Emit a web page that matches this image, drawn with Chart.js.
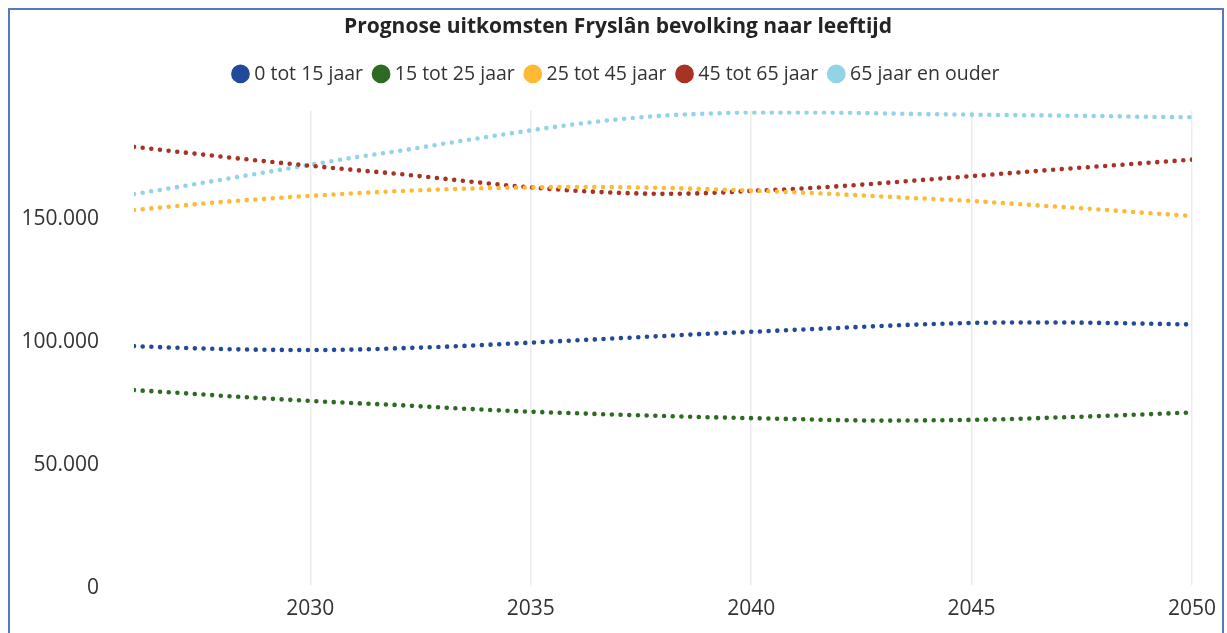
<!DOCTYPE html>
<html>
<head>
<meta charset="utf-8">
<script src="https://cdn.jsdelivr.net/npm/chart.js@4"></script>
<style>
  html, body { margin: 0; padding: 0; background: #fff; overflow: hidden; }
  #bevolking { position: absolute; left: 0; top: 0; }
  #frame { position: absolute; left: 8px; top: 8px; width: 1212px; height: 700px; border: 2px solid #5677c4; pointer-events: none; }
</style>
</head>
<body>
<canvas id="bevolking" width="1227" height="633"></canvas>
<div id="frame"></div>
<script>
// years on the x axis
const years = [2026, 2027, 2028, 2029, 2030, 2031, 2032, 2033, 2034, 2035, 2036, 2037, 2038,
               2039, 2040, 2041, 2042, 2043, 2044, 2045, 2046, 2047, 2048, 2049, 2050];

// age groups
const age0to15 = [97300, 96600, 96100, 95800, 95700, 95900, 96400, 97000, 97800, 98700, 99600, 100500, 101400,
                  102300, 103100, 103900, 104700, 105500, 106200, 106700, 106900, 106900, 106700, 106400, 106100];
const age15to25 = [79400, 78300, 77100, 76000, 75000, 74100, 73300, 72300, 71400, 70600, 70000, 69400, 68900,
                   68400, 68000, 67600, 67200, 67000, 67100, 67300, 67700, 68300, 68900, 69600, 70300];
const age25to45 = [152600, 154300, 155900, 157200, 158400, 159400, 160300, 161000, 161500, 161800, 162000, 161900, 161600,
                   161100, 160500, 159800, 159000, 158100, 157200, 156300, 155100, 153900, 152700, 151400, 150200];
const age45to65 = [178300, 176300, 174300, 172400, 170600, 168900, 167300, 165400, 163500, 161800, 160500, 159600, 159200,
                   159500, 160400, 161200, 162300, 163600, 165000, 166400, 167800, 169200, 170500, 171800, 173100];
const age65plus = [159100, 162000, 165000, 168000, 171000, 174000, 176600, 179500, 182300, 185000, 187500, 189500, 191000,
                   191800, 192300, 192300, 192200, 191900, 191600, 191400, 191200, 191000, 190800, 190500, 190300];

const seriesNames = ["0 tot 15 jaar", "15 tot 25 jaar", "25 tot 45 jaar", "45 tot 65 jaar", "65 jaar en ouder"];
const seriesColors = ["#234a98", "#2e6b22", "#ffb933", "#a83224", "#93d3e6"];
const seriesValues = [age0to15, age15to25, age25to45, age45to65, age65plus];

const xTicks = [2030, 2035, 2040, 2045, 2050];
const yTicks = [0, 50000, 100000, 150000];

function toPoints(values) {
  return values.map((v, i) => ({x: years[i], y: v}));
}

// dutch thousands separator
function fmt(v) {
  return String(v).replace(/\B(?=(\d{3})+(?!\d))/g, '.');
}

const datasets = seriesNames.map((name, i) => ({
  label: name,
  data: toPoints(seriesValues[i]),
  borderColor: seriesColors[i],
  backgroundColor: seriesColors[i],
  borderWidth: 4.6,
  borderDash: [0, 8.7],
  borderCapStyle: 'round',
  pointRadius: 0,
  pointHoverRadius: 0,
  cubicInterpolationMode: 'monotone',
  fill: false
}));

//give the legend some room below it
const legendMargin = {
  id: 'legendMargin',
  beforeInit(chart) {
    const fit = chart.legend.fit;
    chart.legend.fit = function () {
      fit.bind(chart.legend)();
      this.height += 17;
    };
  }
};

const config = {
  type: 'line',
  data: {datasets: datasets},
  options: {
    responsive: false,
    animation: false,
    devicePixelRatio: 1,
    layout: {padding: {left: 10, right: 1, top: 0, bottom: 0}},
    plugins: {
      title: {
        display: true,
        text: 'Prognose uitkomsten Fryslân bevolking naar leeftijd',
        color: '#252423',
        font: {family: 'Open Sans', size: 21, weight: 'bold'},
        padding: {top: 14, bottom: 11}
      },
      legend: {
        display: true,
        labels: {
          usePointStyle: true,
          pointStyle: 'circle',
          boxWidth: 8,
          boxHeight: 10,
          padding: 14,
          color: '#333333',
          font: {family: 'Open Sans', size: 19.5}
        }
      },
      tooltip: {enabled: false}
    },
    scales: {
      x: {
        type: 'linear',
        min: 2026,
        max: 2050,
        afterBuildTicks: scale => { scale.ticks = xTicks.map(v => ({value: v})); },
        afterFit: scale => { scale.height = 45; },
        ticks: {
          padding: 11,
          color: '#333333',
          font: {family: 'Open Sans', size: 21},
          callback: v => String(v)
        },
        grid: {display: true, color: '#ececec', lineWidth: 1.5, drawTicks: false},
        border: {display: false}
      },
      y: {
        min: 0,
        max: 193000,
        afterBuildTicks: scale => { scale.ticks = yTicks.map(v => ({value: v})); },
        afterFit: scale => { scale.width = 124; },
        ticks: {
          padding: 35,
          labelOffset: 3,
          color: '#333333',
          font: {family: 'Open Sans', size: 21},
          callback: v => fmt(v)
        },
        grid: {display: false, drawTicks: false},
        border: {display: false}
      },
      // empty right axis, only keeps the plot clear of the right edge
      yRight: {
        position: 'right',
        afterFit: scale => { scale.width = 34; },
        ticks: {display: false},
        grid: {display: false, drawTicks: false},
        border: {display: false}
      }
    }
  },
  plugins: [legendMargin]
};

const chart = new Chart(document.getElementById('bevolking'), config);
</script>
</body>
</html>
